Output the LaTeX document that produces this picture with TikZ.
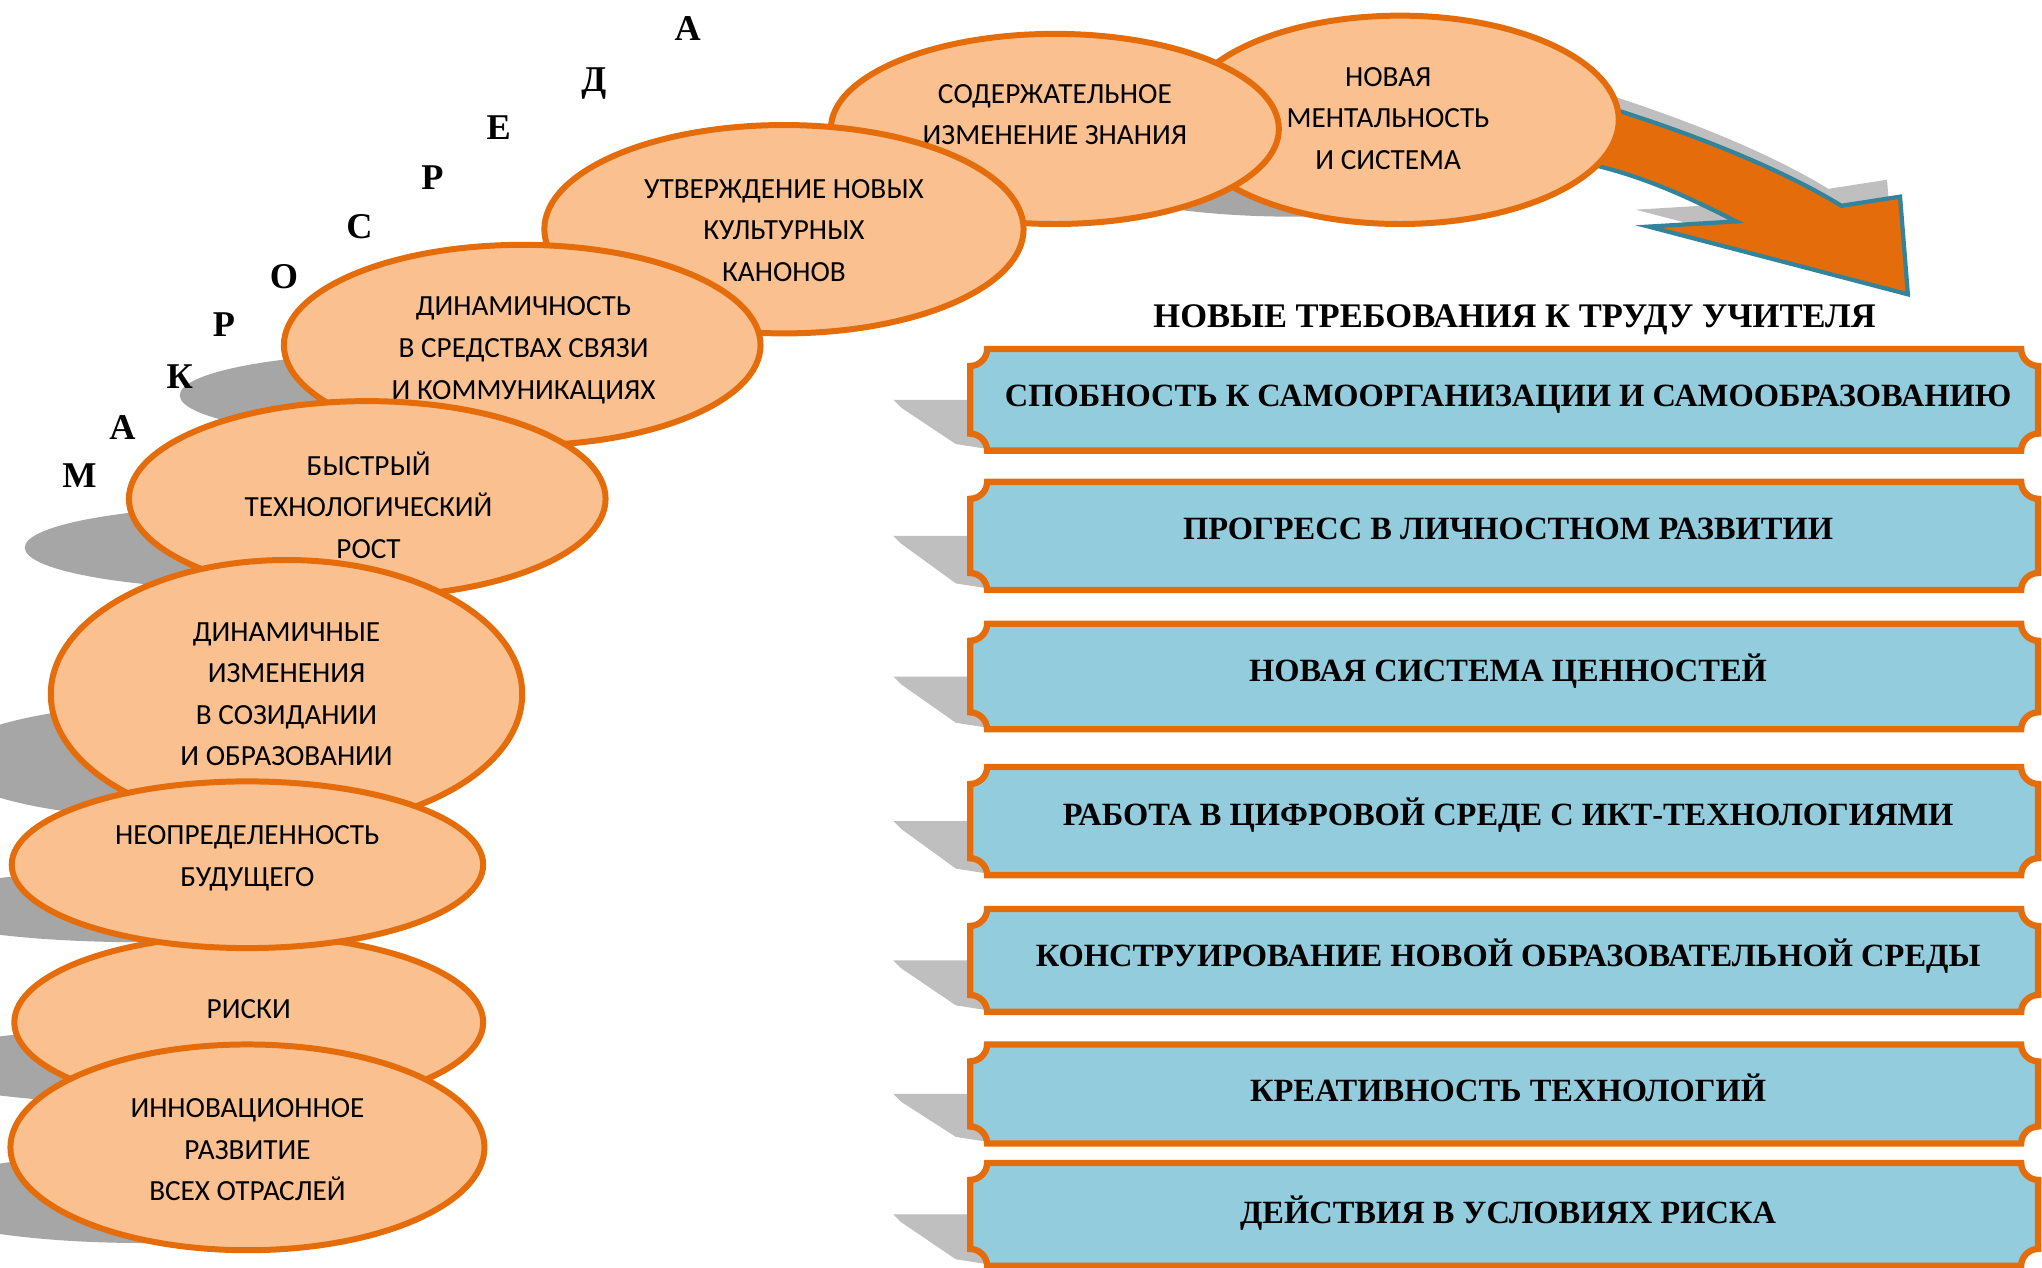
\documentclass[tikz,border=0pt]{standalone}
\usepackage{fontspec}
\setmainfont{Liberation Serif}
\newfontfamily\calibrifont{Carlito}
\usetikzlibrary{shapes.geometric}

\definecolor{peach}{HTML}{FAC090}
\definecolor{rust}{HTML}{E46C0A}
\definecolor{skyblue}{HTML}{93CDDD}
\definecolor{tealedge}{HTML}{31849B}

\begin{document}
\begin{tikzpicture}[x=0.013cm, y=-0.013cm,
        bubble/.style={fill=peach, draw=rust, line width=1.7pt},
        bubbletext/.style={font={\calibrifont\fontsize{8.3}{11.8}\selectfont}, align=center, inner sep=0pt},
        ovalshadow/.style={fill=black!35},
        banner/.style={fill=skyblue, draw=rust, line width=1.8pt},
        bannershadow/.style={fill=black!25},
        bannertext/.style={font={\bfseries\fontsize{9.22}{11}\selectfont}, text height=6pt, text depth=0pt, inner sep=0pt},
        letter/.style={font={\bfseries\fontsize{10.3}{12}\selectfont}, text height=6.8pt, text depth=0pt, inner sep=0pt}]
        \useasboundingbox (0,0) rectangle (1568,973);
        \clip (0,0) rectangle (1568,973);

        \fill[bannershadow, shift={(-10,-13)}] (1200,72) .. controls (1280,95) and (1360,125) .. (1414,158) -- (1459,151) -- (1465,226) -- (1266,174) -- (1333,170) .. controls (1290,148) and (1250,130) .. (1200,122) -- cycle;
        \filldraw[fill=rust, draw=tealedge, line width=1.2pt] (1200,72) .. controls (1280,95) and (1360,125) .. (1414,158) -- (1459,151) -- (1465,226) -- (1266,174) -- (1333,170) .. controls (1290,148) and (1250,130) .. (1200,122) -- cycle;

        \foreach \n/\cx/\cy/\rx/\ry/\tx/\ty/\txt in {
                mental/1075/92/168/80/1066/91/{НОВАЯ\\МЕНТАЛЬНОСТЬ\\И СИСТЕМА},
                knowledge/810/99/172/73/810/88/{СОДЕРЖАТЕЛЬНОЕ\\ИЗМЕНЕНИЕ ЗНАНИЯ},
                canons/602/176/184/80/602/177/{УТВЕРЖДЕНИЕ НОВЫХ\\КУЛЬТУРНЫХ\\КАНОНОВ},
                comm/401/265/183/77/402/269/{ДИНАМИЧНОСТЬ\\В СРЕДСТВАХ СВЯЗИ\\И КОММУНИКАЦИЯХ},
                growth/282/383/183/75/283/388/{БЫСТРЫЙ\\ТЕХНОЛОГИЧЕСКИЙ\\РОСТ},
                changes/220/533/181/103/220/533/{ДИНАМИЧНЫЕ\\ИЗМЕНЕНИЯ\\В СОЗИДАНИИ\\И ОБРАЗОВАНИИ},
                risks/191/785/180/67/191/775/{РИСКИ},
                uncertain/190/664/181/64/190/659/{НЕОПРЕДЕЛЕННОСТЬ\\БУДУЩЕГО},
                innov/190/881/182/79/190/883/{ИННОВАЦИОННОЕ\\РАЗВИТИЕ\\ВСЕХ ОТРАСЛЕЙ}}
        {
                \fill[ovalshadow] (\cx-80,\cy+0.5*\ry) ellipse [x radius=\rx, y radius=0.43*\ry];
                \filldraw[bubble] (\cx,\cy) ellipse [x radius=\rx, y radius=\ry];
                \node[bubbletext] (\n) at (\tx,\ty) {\txt};
        }

        \foreach \ch/\lx/\ly [count=\i] in {М/61/365, А/94/328, К/138/289, Р/172/249, О/218/212, С/276/174, Р/332/136, Е/383/98, Д/456/61, А/528/22}
                \node[letter] (l\i) at (\lx,\ly) {\ch};

        \node[font={\bfseries\fontsize{9.8}{12}\selectfont}, text height=6.5pt, text depth=0pt, inner sep=0pt] (title) at (1163,243) {НОВЫЕ ТРЕБОВАНИЯ К ТРУДУ УЧИТЕЛЯ};

        \foreach \n/\t/\b/\ty/\txt in {
                selforg/268/346/304/{СПОБНОСТЬ К САМООРГАНИЗАЦИИ И САМООБРАЗОВАНИЮ},
                personal/370/453/406/{ПРОГРЕСС В ЛИЧНОСТНОМ РАЗВИТИИ},
                values/479/560/515/{НОВАЯ СИСТЕМА ЦЕННОСТЕЙ},
                digital/589/672/626/{РАБОТА В ЦИФРОВОЙ СРЕДЕ С ИКТ-ТЕХНОЛОГИЯМИ},
                environment/698/777/734/{КОНСТРУИРОВАНИЕ НОВОЙ ОБРАЗОВАТЕЛЬНОЙ СРЕДЫ},
                creative/802/878/838/{КРЕАТИВНОСТЬ ТЕХНОЛОГИЙ},
                risk/893/972/931/{ДЕЙСТВИЯ В УСЛОВИЯХ РИСКА}}
        {
                \fill[bannershadow] (686,{(\t+\b)/2}) -- (760,{(\t+\b)/2}) -- (760,\b-1) -- (734,\b-5) -- (692,{(\t+\b)/2+6}) -- cycle;
                \filldraw[banner] (745,\t+13) .. controls (752,\t+13) and (758,\t+7) .. (758,\t) -- (1552,\t) .. controls (1552,\t+7) and (1558,\t+13) .. (1565,\t+13) -- (1565,\b-13) .. controls (1558,\b-13) and (1552,\b-7) .. (1552,\b) -- (758,\b) .. controls (758,\b-7) and (752,\b-13) .. (745,\b-13) -- cycle;
                \node[bannertext] (\n) at (1158,\ty) {\txt};
        }
\end{tikzpicture}
\end{document}
